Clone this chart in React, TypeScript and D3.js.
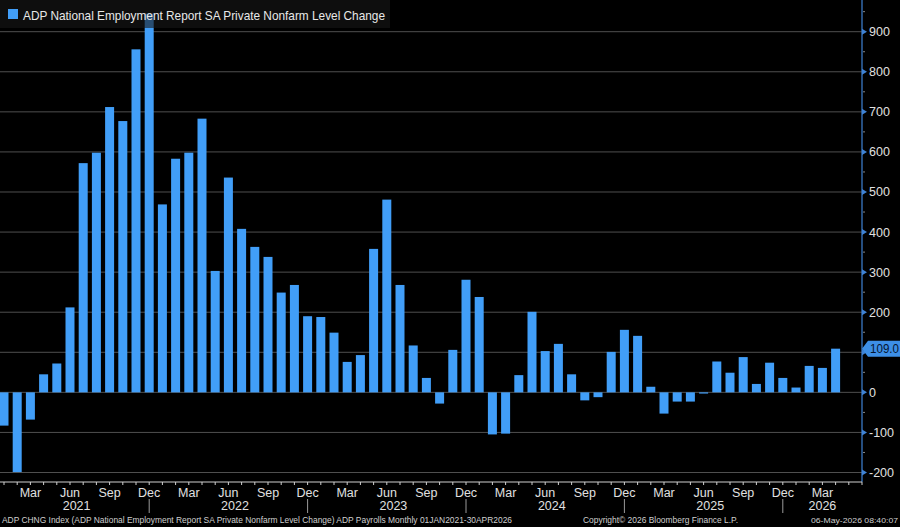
import React, { useEffect, useRef } from 'react';
import * as d3 from 'd3';

// ADP monthly change, Jan 2021 .. Apr 2026 (thousands)
const startYear = 2021;
const values: number[] = [
  -83, -199, -68, 45, 72, 212, 572, 598, 712, 677, 856, 945,
  469, 583, 598, 683, 303, 536, 408, 363, 338, 249, 268, 190,
  188, 149, 76, 93, 358, 481, 268, 117, 36, -28, 106, 281,
  238, -105, -103, 43, 201, 103, 121, 45, -20, -12, 101, 156,
  141, 14, -53, -23, -23, -3, 77, 49, 88, 21, 74, 36,
  12, 66, 61, 109
];
const monthNames = ['Jan', 'Feb', 'Mar', 'Apr', 'May', 'Jun', 'Jul', 'Aug', 'Sep', 'Oct', 'Nov', 'Dec'];
const labeledMonths = [2, 5, 8, 11];
const years = [2021, 2022, 2023, 2024, 2025, 2026];
const yTicks = [-200, -100, 0, 100, 200, 300, 400, 500, 600, 700, 800, 900];
const legendText = 'ADP National Employment Report SA Private Nonfarm Level Change';
const footerLeft = 'ADP CHNG Index (ADP National Employment Report SA Private Nonfarm Level Change) ADP Payrolls Monthly 01JAN2021-30APR2026';
const footerMid = 'Copyright\u00A9 2026 Bloomberg Finance L.P.';
const footerRight = '06-May-2026 08:40:07';

const BarChart = () => {
  const svgRef = useRef<SVGSVGElement>(null);
  const width = 900;
  const height = 527;
  const plotRight = 862;
  const axisY = 482;
  const font = '"Liberation Sans", Arial, sans-serif';

  useEffect(() => {
    document.body.style.margin = '0';
    document.body.style.background = '#000';
    const svg = d3.select(svgRef.current);
    svg.selectAll('*').remove();

    const xScale = d3.scaleLinear().domain([0, 65]).range([4, plotRight]);
    const yScale = d3.scaleLinear().domain([-200, 900]).range([472.5, 31.7]);
    const barW = 9;
    const last = values[values.length - 1];
    const ly = yScale(last);

    svg.append('rect').attr('width', width).attr('height', height).attr('fill', '#000');

    // grid
    svg.append('g')
      .selectAll('line')
      .data(yTicks)
      .enter()
      .append('line')
      .attr('x1', 0)
      .attr('x2', plotRight)
      .attr('y1', d => yScale(d))
      .attr('y2', d => yScale(d))
      .attr('stroke', '#4f4f4f')
      .attr('stroke-width', 1);

    // bars
    svg.append('g')
      .selectAll('rect')
      .data(values)
      .enter()
      .append('rect')
      .attr('x', (d, i) => xScale(i) - barW / 2)
      .attr('y', d => yScale(Math.max(0, d)))
      .attr('width', barW)
      .attr('height', d => Math.abs(yScale(d) - yScale(0)))
      .attr('fill', '#419ef8');

    // legend
    svg.append('rect')
      .attr('x', 0).attr('y', 0).attr('width', 390).attr('height', 28)
      .attr('fill', 'rgba(24,24,24,0.6)');
    svg.append('rect')
      .attr('x', 8).attr('y', 9).attr('width', 10).attr('height', 10)
      .attr('fill', '#419ef8');
    svg.append('text')
      .attr('x', 23).attr('y', 19.5)
      .attr('fill', '#e8e8e8')
      .attr('textLength', 362)
      .attr('lengthAdjust', 'spacingAndGlyphs')
      .style('font-family', font)
      .style('font-size', '13px')
      .text(legendText);

    // right axis
    svg.append('line')
      .attr('x1', plotRight).attr('x2', plotRight)
      .attr('y1', 0).attr('y2', axisY)
      .attr('stroke', '#3f83d6').attr('stroke-width', 1.2);

    const minor = d3.range(-150, 1000, 100);
    svg.append('g')
      .selectAll('line')
      .data(minor)
      .enter()
      .append('line')
      .attr('x1', plotRight + 1).attr('x2', plotRight + 3)
      .attr('y1', d => yScale(d)).attr('y2', d => yScale(d))
      .attr('stroke', '#888');

    const yAxis = svg.append('g');
    yAxis.selectAll('path')
      .data(yTicks)
      .enter()
      .append('path')
      .attr('d', d => `M${plotRight},${yScale(d) - 3}L${plotRight + 5},${yScale(d)}L${plotRight},${yScale(d) + 3}Z`)
      .attr('fill', '#3f83d6');
    // labels hidden behind the value tag are left out
    yAxis.selectAll('text')
      .data(yTicks.filter(d => Math.abs(yScale(d) - ly) > 12))
      .enter()
      .append('text')
      .attr('x', plotRight + 7)
      .attr('y', d => yScale(d))
      .attr('dy', '0.36em')
      .attr('fill', '#e0e0e0')
      .style('font-family', font)
      .style('font-size', '12.5px')
      .text(d => d);

    // last value tag
    svg.append('path')
      .attr('d', `M${plotRight},${ly}L${plotRight + 6},${ly - 8}L${width},${ly - 8}L${width},${ly + 8}L${plotRight + 6},${ly + 8}Z`)
      .attr('fill', '#3d8fe6');
    svg.append('text')
      .attr('x', plotRight + 8)
      .attr('y', ly)
      .attr('dy', '0.36em')
      .attr('fill', '#061530')
      .attr('textLength', 29)
      .attr('lengthAdjust', 'spacingAndGlyphs')
      .style('font-family', font)
      .style('font-size', '12.5px')
      .text(last.toFixed(1));

    // bottom axis
    svg.append('line')
      .attr('x1', 0).attr('x2', plotRight)
      .attr('y1', axisY).attr('y2', axisY)
      .attr('stroke', '#cfcfcf');
    svg.append('g')
      .selectAll('line')
      .data(d3.range(0, 66))
      .enter()
      .append('line')
      .attr('x1', d => xScale(d)).attr('x2', d => xScale(d))
      .attr('y1', axisY).attr('y2', axisY + 3)
      .attr('stroke', '#cfcfcf');

    const monthIdx = d3.range(0, values.length).filter(i => labeledMonths.includes(i % 12));
    svg.append('g')
      .selectAll('text')
      .data(monthIdx)
      .enter()
      .append('text')
      .attr('x', d => xScale(d))
      .attr('y', 492)
      .attr('dy', '0.36em')
      .attr('text-anchor', 'middle')
      .attr('fill', '#e0e0e0')
      .style('font-family', font)
      .style('font-size', '12.5px')
      .text(d => monthNames[d % 12]);

    svg.append('g')
      .selectAll('text')
      .data(years)
      .enter()
      .append('text')
      .attr('x', d => {
        const a = (d - startYear) * 12;
        const b = Math.min(a + 11, 64);
        return (xScale(a) + xScale(b)) / 2;
      })
      .attr('y', 505.5)
      .attr('dy', '0.36em')
      .attr('text-anchor', 'middle')
      .attr('fill', '#e0e0e0')
      .style('font-family', font)
      .style('font-size', '12.5px')
      .text(d => d);

    const decIdx = monthIdx.filter(i => i % 12 === 11);
    svg.append('g')
      .selectAll('line')
      .data(decIdx)
      .enter()
      .append('line')
      .attr('x1', d => xScale(d)).attr('x2', d => xScale(d))
      .attr('y1', 499).attr('y2', 513)
      .attr('stroke', '#9a9a9a');

    // footer
    const footer = svg.append('g')
      .style('font-family', font)
      .style('font-size', '9.5px')
      .attr('fill', '#cfcfcf');
    footer.append('text').attr('x', 2).attr('y', 523)
      .attr('textLength', 510).attr('lengthAdjust', 'spacingAndGlyphs').text(footerLeft);
    footer.append('text').attr('x', 583).attr('y', 523)
      .attr('textLength', 155).attr('lengthAdjust', 'spacingAndGlyphs').text(footerMid);
    footer.append('text').attr('x', 811).attr('y', 523)
      .style('font-size', '8px')
      .attr('textLength', 87).attr('lengthAdjust', 'spacingAndGlyphs').text(footerRight);
  }, []);

  return (
    <svg ref={svgRef} width={width} height={height} style={{ display: 'block' }}></svg>
  );
};

export default function App() {
  return <BarChart />;
}
